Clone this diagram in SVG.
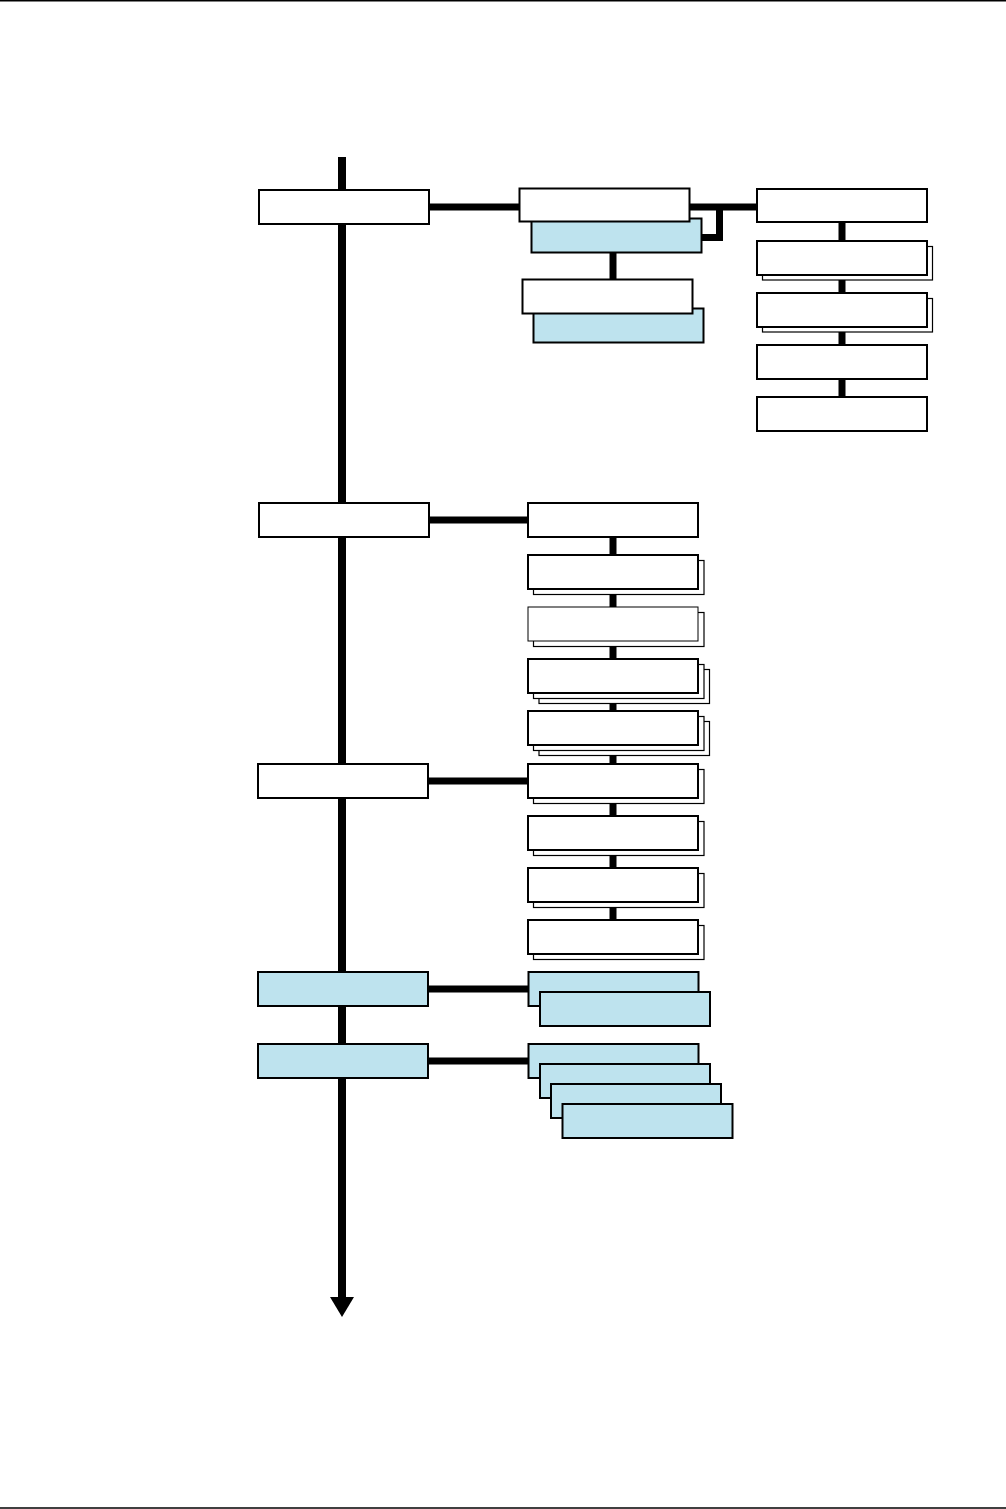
<svg xmlns="http://www.w3.org/2000/svg" width="1006" height="1509" viewBox="0 0 1006 1509">
<style>
.b{fill:#fff;stroke:#000;stroke-width:2}
.t{fill:#fff;stroke:#000;stroke-width:1}
.c{fill:#BEE3EE;stroke:#000;stroke-width:2}
.s{fill:#fff;stroke:#000;stroke-width:1.2}
.k{fill:none;stroke:#000;stroke-width:7}
.m{fill:none;stroke:#000;stroke-width:8}
</style>
<rect width="1006" height="1509" fill="#fff"/>
<line x1="0" y1="0.75" x2="1006" y2="0.75" stroke="#000" stroke-width="1.5"/>
<line x1="0" y1="1508" x2="1006" y2="1508" stroke="#000" stroke-width="1.5"/>
<g id="connectors">
<line class="m" x1="342" y1="157" x2="342" y2="1300"/>
<polygon points="330,1297 354,1297 342,1317" fill="#000"/>
<line class="k" x1="429" y1="207" x2="519" y2="207"/>
<path class="k" d="M689,207 H757 M719.5,207 V237.5 H701"/>
<line class="k" x1="613" y1="252" x2="613" y2="279"/>
<line class="k" x1="842" y1="222" x2="842" y2="397"/>
<line class="k" x1="429" y1="520" x2="528" y2="520"/>
<line class="k" x1="613" y1="537" x2="613" y2="920"/>
<line class="k" x1="428" y1="781" x2="528" y2="781"/>
<line class="k" x1="428" y1="989" x2="528" y2="989"/>
<line class="k" x1="428" y1="1061" x2="528" y2="1061"/>
</g>
<g id="n1"><rect class="b" x="259" y="190" width="170" height="34"/></g>
<g id="n2"><rect class="c" x="531.5" y="218.5" width="170" height="34"/><rect class="b" x="519.5" y="188.5" width="170" height="33"/></g>
<g id="n3"><rect class="c" x="533.5" y="308.5" width="170" height="34"/><rect class="b" x="522.5" y="279.5" width="170" height="34"/></g>
<g id="r1"><rect class="b" x="757" y="189" width="170" height="33"/></g>
<g id="r2"><rect class="s" x="762.5" y="246.5" width="170" height="33.5"/><rect class="b" x="757" y="241" width="170" height="34"/></g>
<g id="r3"><rect class="s" x="762.5" y="298.5" width="170" height="33.5"/><rect class="b" x="757" y="293" width="170" height="34"/></g>
<g id="r4"><rect class="b" x="757" y="345" width="170" height="34"/></g>
<g id="r5"><rect class="b" x="757" y="397" width="170" height="34"/></g>
<g id="n4"><rect class="b" x="259" y="503" width="170" height="34"/></g>
<g id="m1"><rect class="b" x="528" y="503" width="170" height="34"/></g>
<g id="m2"><rect class="s" x="533.5" y="560.5" width="170.5" height="34"/><rect class="b" x="528" y="555" width="170" height="34"/></g>
<g id="m3"><rect class="s" x="533.5" y="612.5" width="170.5" height="34"/><rect class="t" x="528" y="607" width="170" height="34"/></g>
<g id="m4"><rect class="s" x="539" y="669.5" width="170.5" height="34"/><rect class="s" x="533.5" y="664.5" width="170.5" height="34"/><rect class="b" x="528" y="659" width="170" height="34"/></g>
<g id="m5"><rect class="s" x="539" y="721.5" width="170.5" height="34"/><rect class="s" x="533.5" y="716.5" width="170.5" height="34"/><rect class="b" x="528" y="711" width="170" height="34"/></g>
<g id="n5"><rect class="b" x="258" y="764" width="170" height="34"/></g>
<g id="m6"><rect class="s" x="533.5" y="769.5" width="170.5" height="34"/><rect class="b" x="528" y="764" width="170" height="34"/></g>
<g id="m7"><rect class="s" x="533.5" y="821.5" width="170.5" height="34"/><rect class="b" x="528" y="816" width="170" height="34"/></g>
<g id="m8"><rect class="s" x="533.5" y="873.5" width="170.5" height="34"/><rect class="b" x="528" y="868" width="170" height="34"/></g>
<g id="m9"><rect class="s" x="533.5" y="925.5" width="170.5" height="34"/><rect class="b" x="528" y="920" width="170" height="34"/></g>
<g id="n6"><rect class="c" x="258" y="972" width="170" height="34"/></g>
<g id="p1"><rect class="c" x="528.5" y="972" width="170" height="34"/><rect class="c" x="540" y="992" width="170" height="34"/></g>
<g id="n7"><rect class="c" x="258" y="1044" width="170" height="34"/></g>
<g id="p2"><rect class="c" x="528.5" y="1044" width="170" height="34"/><rect class="c" x="540" y="1064" width="170" height="34"/><rect class="c" x="551" y="1084" width="170" height="34"/><rect class="c" x="562.5" y="1104" width="170" height="34"/></g>
</svg>
